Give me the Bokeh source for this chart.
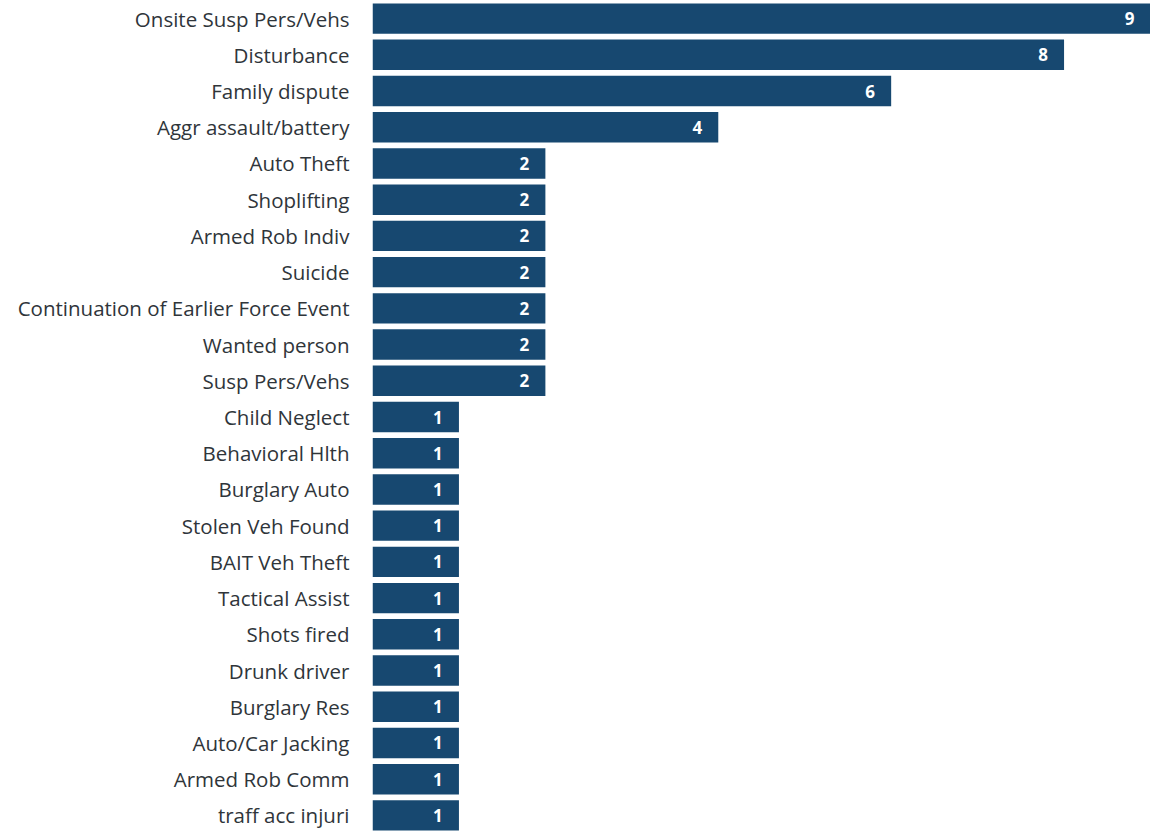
from bokeh.plotting import figure
from bokeh.models import ColumnDataSource, Range1d, FactorRange
from bokeh.core.properties import value
from bokeh.embed import file_html
from bokeh.resources import INLINE

categories = ["Onsite Susp Pers/Vehs", "Disturbance", "Family dispute", "Aggr assault/battery",
              "Auto Theft", "Shoplifting", "Armed Rob Indiv", "Suicide",
              "Continuation of Earlier Force Event", "Wanted person", "Susp Pers/Vehs",
              "Child Neglect", "Behavioral Hlth", "Burglary Auto", "Stolen Veh Found",
              "BAIT Veh Theft", "Tactical Assist", "Shots fired", "Drunk driver",
              "Burglary Res", "Auto/Car Jacking", "Armed Rob Comm", "traff acc injuri"]
counts = [9, 8, 6, 4, 2, 2, 2, 2, 2, 2, 2, 1, 1, 1, 1, 1, 1, 1, 1, 1, 1, 1, 1]
count_labels = [str(c) for c in counts]

src = ColumnDataSource(dict(cat=categories, cnt=counts, lbl=count_labels))

p = figure(width=1150, height=833, output_backend="svg", toolbar_location=None,
           y_range=FactorRange(*categories[::-1], range_padding=0),
           x_range=Range1d(0, 9))
p.min_border_left = 372
p.min_border_right = 0
p.min_border_top = 0
p.min_border_bottom = 0
p.outline_line_color = None
p.grid.visible = False
p.xaxis.visible = False

p.hbar(y="cat", right="cnt", left=0, height=0.84, source=src,
       fill_color="#174870", line_color=None)
p.text(x="cnt", y="cat", text="lbl", source=src, x_offset=-21,
       text_align="center", text_baseline="middle", text_color="white",
       text_font=value("Open Sans"), text_font_size="17px", text_font_style="bold")

yax = p.yaxis[0]
yax.axis_line_color = None
yax.major_tick_line_color = None
yax.minor_tick_line_color = None
yax.major_label_standoff = 17
yax.major_label_text_font = "Open Sans"
yax.major_label_text_font_size = "20.5px"
yax.major_label_text_color = "#2f353a"

open("out.html", "w").write(file_html(p, INLINE))
